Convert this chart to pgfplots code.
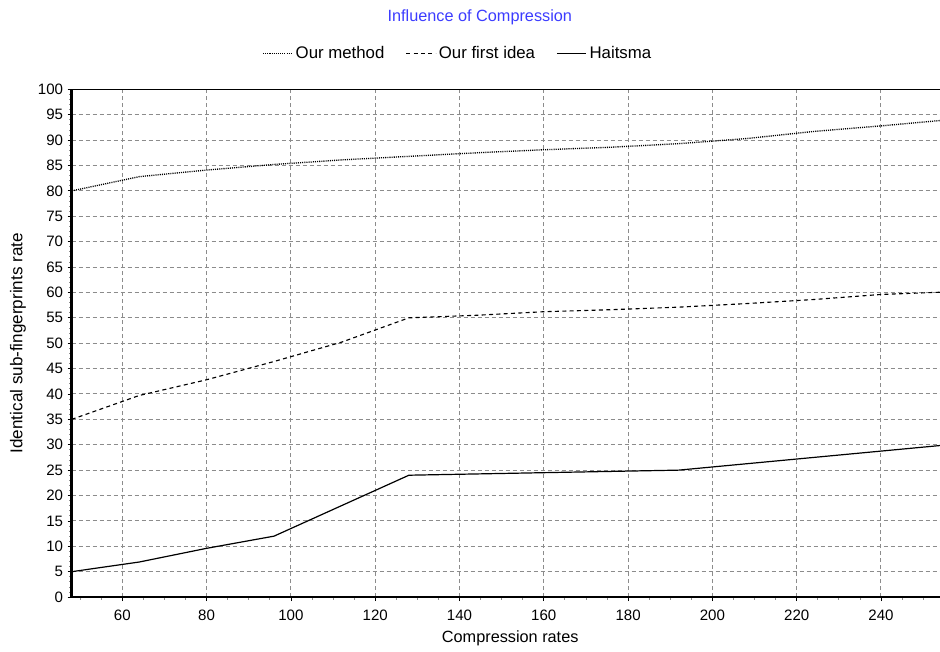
\documentclass[border=0pt]{standalone}
\usepackage{fontspec}
\setmainfont{Liberation Sans}
\usepackage{pgfplots}
\pgfplotsset{compat=1.18}
\definecolor{titleblue}{RGB}{60,60,255}
\definecolor{gridgray}{RGB}{140,140,140}
\begin{document}
\begin{tikzpicture}
\begin{axis}[
  at={(0pt,0pt)}, anchor=south west,
  scale only axis, width=651.2pt, height=380.8pt,
  xmin=48, xmax=254, ymin=0, ymax=100,
  axis x line*=bottom, axis y line*=left,
  x axis line style={line width=2pt},
  y axis line style={line width=2.2pt},
  xtick={60,80,...,240}, ytick={0,5,...,100},
  minor xtick={50,55,...,250}, minor ytick={0,1,...,100},
  tick align=outside, major tick length=3pt, minor tick length=2pt,
  tick style={black, line width=0.6pt},
  minor tick style={gridgray, line width=0.6pt},
  xmajorgrids, ymajorgrids,
  grid style={gridgray, dash pattern=on 3pt off 2.25pt, line width=0.75pt},
  /pgf/number format/assume math mode=true,
  ticklabel style={font=\fontsize{11.3}{13}\selectfont},
  xticklabel style={yshift=-3pt},
  xlabel={Compression rates},
  xlabel style={at={(axis description cs:0.505,0)}, anchor=center, yshift=-31pt, font=\fontsize{12.2}{14}\selectfont},
  ylabel={Identical sub-fingerprints rate},
  ylabel style={at={(axis description cs:-0.062,0.5)}, anchor=center, font=\fontsize{12.8}{14}\selectfont},
  title={Influence of Compression},
  title style={at={(axis description cs:0.47,1.126)}, anchor=center, text=titleblue, font=\fontsize{12.2}{14}\selectfont},
  legend style={at={(axis description cs:0.445,1.07)}, anchor=center, draw=none, fill=none,
    font=\fontsize{12.6}{14}\selectfont, legend columns=-1,
    /tikz/every even column/.append style={column sep=14pt}},
  legend image code/.code={\draw[#1] (0pt,0pt) -- (22pt,0pt);},
]
\addplot[black, line width=1pt, dash pattern=on 0.8pt off 0.8pt] coordinates {
(48,80) (64,82.8) (80,84.1) (96,85.2) (112,86.1) (128,86.8) (144,87.5) (160,88.1) (176,88.6) (192,89.3) (208,90.3) (224,91.7) (240,92.8) (256,94.0)};
\addlegendentry{Our method}
\addplot[black, line width=0.85pt, dash pattern=on 3pt off 2.5pt] coordinates {
(48,35) (64,39.7) (80,42.8) (96,46.4) (112,50.2) (128,55) (144,55.5) (160,56.2) (176,56.6) (192,57.1) (208,57.8) (224,58.6) (240,59.6) (256,60.1)};
\addlegendentry{Our first idea}
\addplot[black, line width=0.9pt] coordinates {
(48,5) (64,6.9) (80,9.6) (96,12) (128,24) (160,24.5) (192,25) (224,27.5) (256,30)};
\addlegendentry{Haitsma}
\draw[black, line width=1.5pt] (rel axis cs:0,1) -- (rel axis cs:1,1);
\end{axis}
\pgfresetboundingbox
\path (-53.8pt,-40.5pt) rectangle (651.2pt,447.8pt);
\end{tikzpicture}
\end{document}
